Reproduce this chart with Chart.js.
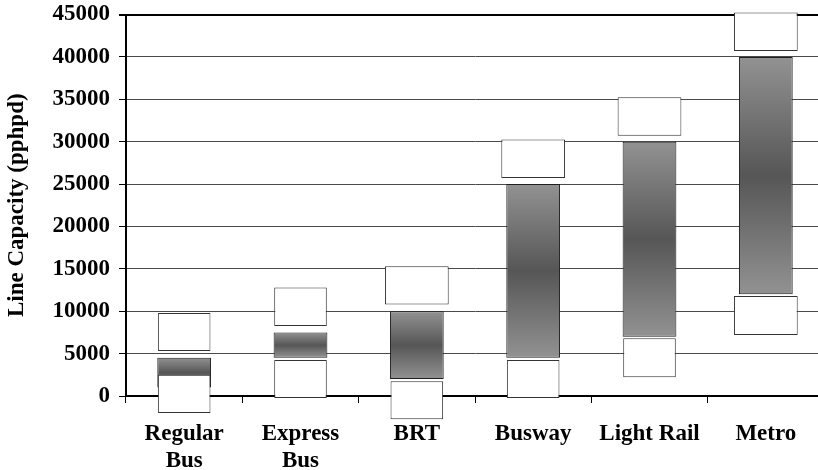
<!DOCTYPE html>
<html>
<head>
<meta charset="utf-8">
<script src="https://cdn.jsdelivr.net/npm/chart.js@4.4.1/dist/chart.umd.min.js"></script>
<style>
  html, body { margin: 0; padding: 0; background: #ffffff; overflow: hidden; }
  #wrap { width: 824px; height: 470px; position: relative; }
</style>
</head>
<body>
<div id="wrap"><canvas id="c"></canvas></div>
<script>
// ---- data ----
const categories = [['Regular', 'Bus'], ['Express', 'Bus'], 'BRT', 'Busway', 'Light Rail', 'Metro'];
const capacityRange = [[1000, 4500], [4500, 7500], [2000, 10000], [4500, 25000], [7000, 30000], [12000, 40000]];
const upperLabelBox = [[5300, 9800], [8250, 12800], [10800, 15300], [25700, 30250], [30700, 35250], [40700, 45250]];
const lowerLabelBox = [[-2000, 2500], [-250, 4250], [-2750, 1750], [-250, 4250], [2200, 6800], [7200, 11800]];
const yAxisTitle = 'Line Capacity (pphpd)';

// ---- style ----
const upperWide = [false, false, true, true, true, true];
const lowerWide = [false, false, false, false, false, true];
const FONT = { family: '"Liberation Serif", "Times New Roman", serif', size: 23, weight: 'bold' };

const pick = (arr, flags, want) => arr.map((v, i) => (flags[i] === want ? v : null));

function boxDataset(data, pct) {
  return {
    data: data,
    backgroundColor: '#ffffff',
    borderColor: '#333333',
    borderWidth: 1,
    borderSkipped: false,
    barPercentage: pct,
    categoryPercentage: 1,
    grouped: false,
    clip: false,
    order: 0
  };
}

const narrowBox = 0.452, wideBox = 0.548, barPct = 0.462;

const datasets = [
  boxDataset(pick(upperLabelBox, upperWide, false), narrowBox),
  boxDataset(pick(upperLabelBox, upperWide, true), wideBox),
  boxDataset(pick(lowerLabelBox, lowerWide, false), narrowBox),
  boxDataset(pick(lowerLabelBox, lowerWide, true), wideBox),
  {
    data: capacityRange,
    backgroundColor: (ctx) => {
      const chart = ctx.chart;
      const ys = chart.scales && chart.scales.y;
      if (!ys || !ctx.raw) return '#707070';
      const top = ys.getPixelForValue(ctx.raw[1]);
      const bot = ys.getPixelForValue(ctx.raw[0]);
      if (!isFinite(top) || !isFinite(bot) || top === bot) return '#707070';
      const g = chart.ctx.createLinearGradient(0, top, 0, bot);
      g.addColorStop(0, '#929292');
      g.addColorStop(0.5, '#565656');
      g.addColorStop(1, '#929292');
      return g;
    },
    borderColor: '#1e1e1e',
    borderWidth: 1,
    borderSkipped: false,
    barPercentage: barPct,
    categoryPercentage: 1,
    grouped: false,
    clip: false,
    order: 1
  }
];

new Chart(document.getElementById('c'), {
  type: 'bar',
  data: { labels: categories, datasets: datasets },
  options: {
    responsive: true,
    maintainAspectRatio: false,
    animation: false,
    layout: { padding: { top: 14.5, right: 0, left: 0, bottom: 0 } },
    plugins: { legend: { display: false }, tooltip: { enabled: false } },
    scales: {
      x: {
        offset: true,
        grid: { offset: true, drawOnChartArea: false, drawTicks: true, tickLength: 7, tickColor: '#000000', lineWidth: 1 },
        border: { display: true, color: '#000000', width: 2 },
        ticks: { color: '#000000', font: FONT, padding: 17, maxRotation: 0, autoSkip: false },
        afterFit: (axis) => { axis.height = 74; axis.paddingLeft = 0; axis.paddingRight = 0; }
      },
      y: {
        min: 0,
        max: 45000,
        grid: {
          color: (c) => (c.tick && (c.tick.value === 45000 || c.tick.value === 0) ? '#000000' : '#4a4a4a'),
          lineWidth: (c) => (c.tick && c.tick.value === 45000 ? 2 : 1),
          tickColor: '#000000',
          tickLength: 7
        },
        border: { display: true, color: '#000000', width: 2 },
        ticks: {
          stepSize: 5000,
          color: '#000000',
          font: FONT,
          padding: 9,
          callback: (v) => String(v)
        },
        title: {
          display: true,
          text: yAxisTitle,
          color: '#000000',
          font: FONT,
          padding: { top: 3, bottom: 0 }
        },
        afterFit: (axis) => { axis.width = 126; axis.paddingTop = 0; axis.paddingBottom = 0; }
      }
    }
  }
});
</script>
</body>
</html>
